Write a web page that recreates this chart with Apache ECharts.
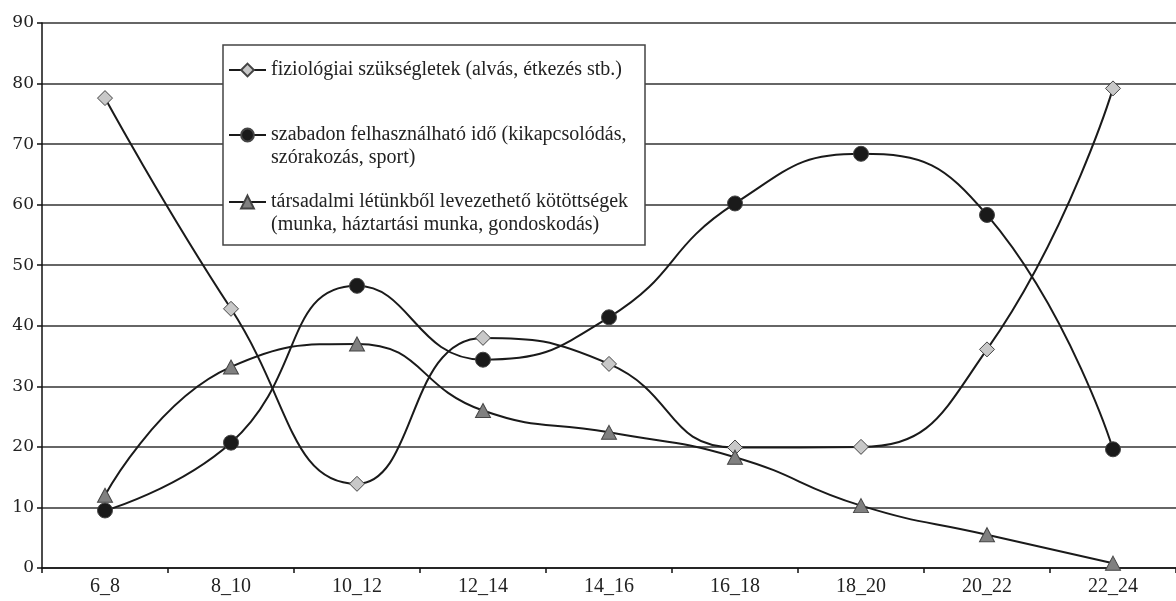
<!DOCTYPE html>
<html>
<head>
<meta charset="utf-8">
<script src="https://cdn.jsdelivr.net/npm/echarts@6/dist/echarts.min.js"></script>
<style>
  html, body { margin: 0; padding: 0; background: #fff; }
  #chart { width: 1176px; height: 601px; }
</style>
</head>
<body>
<div id="chart"></div>
<script>
// categories and values
const categories = ['6_8', '8_10', '10_12', '12_14', '14_16', '16_18', '18_20', '20_22', '22_24'];
const fiziologiai = [77.6, 42.8, 13.9, 38.0, 33.7, 19.9, 20.0, 36.1, 79.2];
const szabadon = [9.5, 20.7, 46.6, 34.4, 41.4, 60.2, 68.4, 58.3, 19.6];
const tarsadalmi = [12.0, 33.2, 37.0, 26.0, 22.4, 18.3, 10.3, 5.5, 0.8];

const names = [
  'fiziológiai szükségletek (alvás, étkezés stb.)',
  'szabadon felhasználható idő (kikapcsolódás, szórakozás, sport)',
  'társadalmi létünkből levezethető kötöttségek (munka, háztartási munka, gondoskodás)'
];
const legendLines = [
  ['fiziológiai szükségletek (alvás, étkezés stb.)'],
  ['szabadon felhasználható idő (kikapcsolódás,', 'szórakozás, sport)'],
  ['társadalmi létünkből levezethető kötöttségek', '(munka, háztartási munka, gondoskodás)']
];

const serif = '"Liberation Serif", "DejaVu Serif", serif';
const lineColor = '#1a1a1a';

function legendFor(i, top) {
  const lines = legendLines[i];
  return {
    data: [names[i]],
    left: 228,
    top: top,
    padding: 0,
    orient: 'vertical',
    itemWidth: 37,
    itemHeight: 16,
    selectedMode: false,
    formatter: function () {
      // leading blank line keeps the icon on the first text line
      return lines.length > 1 ? '\n' + lines.join('\n') : lines[0];
    },
    textStyle: { fontFamily: serif, fontSize: 20, color: '#222', lineHeight: 23 }
  };
}

function makeSeries(name, data, symbol, size, fill) {
  return {
    name: name,
    type: 'line',
    data: data,
    smooth: 0.5,
    symbol: symbol,
    symbolSize: size,
    showSymbol: true,
    lineStyle: { color: lineColor, width: 2 },
    itemStyle: { color: fill, borderColor: '#444', borderWidth: 1 },
    emphasis: { disabled: true },
    z: 3
  };
}

const chart = echarts.init(document.getElementById('chart'));
chart.setOption({
  animation: false,
  backgroundColor: '#fff',
  grid: { left: 42, top: 23, width: 1138, height: 545, containLabel: false },
  xAxis: {
    type: 'category',
    data: categories,
    boundaryGap: true,
    axisLine: { lineStyle: { color: '#111', width: 1.5 } },
    axisTick: { show: true, length: 5, lineStyle: { color: '#111', width: 1.5 } },
    axisLabel: { fontFamily: serif, fontSize: 20, color: '#222', margin: 9 },
    splitLine: { show: false }
  },
  yAxis: {
    type: 'value',
    min: 0,
    max: 90,
    interval: 10,
    axisLine: { show: true, lineStyle: { color: '#111', width: 1.5 } },
    axisTick: { show: true, length: 5, lineStyle: { color: '#111', width: 1.5 } },
    axisLabel: { fontFamily: '"DejaVu Serif", serif', fontSize: 17, color: '#222', margin: 8 },
    splitLine: { show: true, lineStyle: { color: '#333', width: 1.5 } }
  },
  graphic: [{
    type: 'rect',
    z: 1,
    shape: { x: 223, y: 45, width: 422, height: 200 },
    style: { fill: '#fff', stroke: '#444', lineWidth: 1.5 }
  }],
  legend: [
    legendFor(0, 58.5),
    legendFor(1, 100.5),
    legendFor(2, 167.5)
  ],
  series: [
    makeSeries(names[0], fiziologiai, 'diamond', 15, '#c8c8c8'),
    makeSeries(names[1], szabadon, 'circle', 15, '#1a1a1a'),
    makeSeries(names[2], tarsadalmi, 'triangle', [15, 14], '#808080')
  ]
});
</script>
</body>
</html>
